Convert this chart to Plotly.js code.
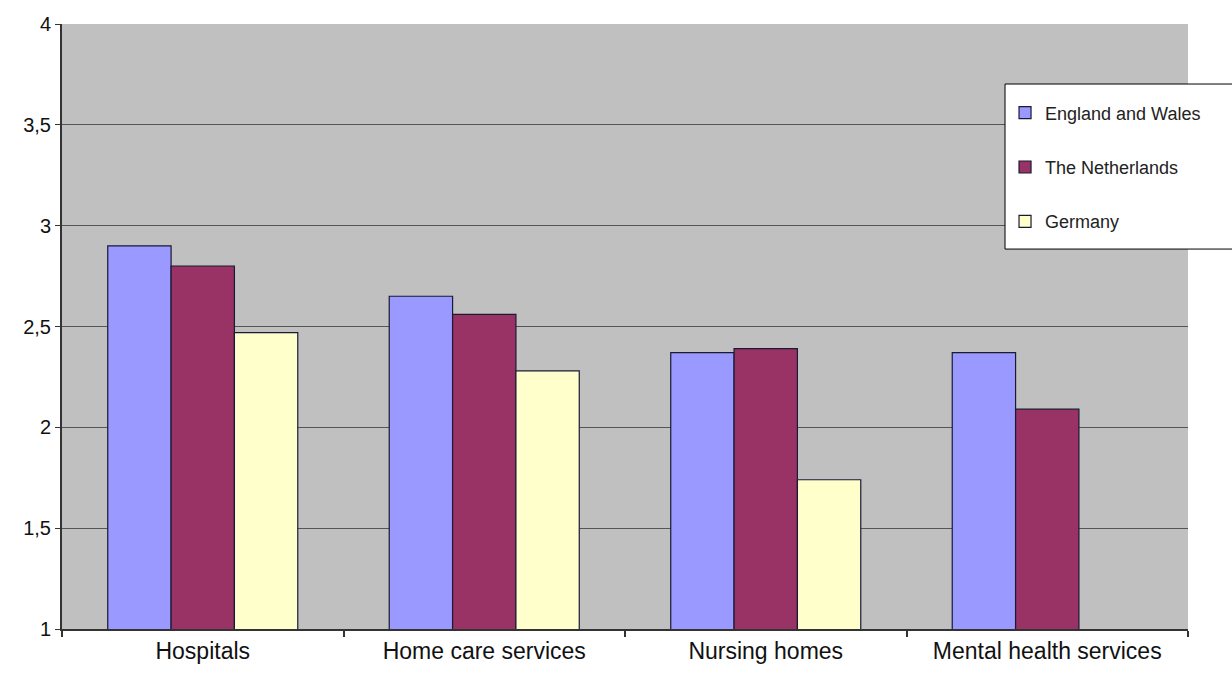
<!DOCTYPE html>
<html>
<head>
<meta charset="utf-8">
<script src="https://cdn.plot.ly/plotly-3.0.1.min.js"></script>
<style>html,body{margin:0;padding:0;background:#fff;}#chart{width:1232px;height:673px;}</style>
</head>
<body>
<div id="chart"></div>
<script>
const categories = ["Hospitals", "Home care services", "Nursing homes", "Mental health services"];
const seriesNames = ["England and Wales", "The Netherlands", "Germany"];
const englandWales = [2.90, 2.65, 2.37, 2.37];
const netherlands = [2.80, 2.56, 2.39, 2.09];
const germany = [2.47, 2.28, 1.74, null];
const yTicks = [1, 1.5, 2, 2.5, 3, 3.5, 4];

const colors = ["#9999ff", "#993366", "#ffffcc"];
const values = [englandWales, netherlands, germany];

const traces = values.map((v, i) => ({
  type: "bar",
  name: seriesNames[i],
  x: categories,
  y: v,
  legendgroup: "g" + i,
  marker: {color: colors[i], line: {color: "#1a1a33", width: 1.2}},
  hoverinfo: "x+y+name"
}));

const layout = {
  width: 1232, height: 673,
  margin: {l: 62, r: 44, t: 24, b: 44},
  paper_bgcolor: "#ffffff",
  plot_bgcolor: "#c0c0c0",
  separators: ",.",
  barmode: "group",
  bargap: 0.325,
  bargroupgap: 0,
  font: {family: "Liberation Sans, Arial, sans-serif", color: "#111", size: 18},
  xaxis: {
    type: "category",
    showline: true, linecolor: "#333", linewidth: 2,
    ticks: "outside", tickson: "boundaries", ticklen: 6, tickcolor: "#333", tickwidth: 1.5,
    showgrid: false,
    tickfont: {size: 23}
  },
  yaxis: {
    range: [1, 4],
    tickvals: yTicks,
    showline: true, linecolor: "#333", linewidth: 2,
    ticks: "outside", ticklen: 5, tickcolor: "#333",
    showgrid: true, gridcolor: "#555", gridwidth: 1,
    zeroline: false,
    tickfont: {size: 20}
  },
  shapes: [{
    type: "rect", xref: "paper", yref: "paper", layer: "above",
    x0: 0.8375, x1: 1.045, y0: 0.628, y1: 0.9008,
    fillcolor: "#ffffff", line: {color: "#000", width: 1}
  }],
  showlegend: true,
  legend: {
    x: 0.8375, y: 0.9008, xanchor: "left", yanchor: "top",
    bgcolor: "rgba(0,0,0,0)", borderwidth: 0,
    font: {size: 18, color: "#222"},
    title: {text: " ", font: {size: 8}},
    traceorder: "grouped",
    tracegroupgap: 28,
    itemwidth: 30
  }
};

Plotly.newPlot("chart", traces, layout, {displayModeBar: false});
</script>
</body>
</html>
